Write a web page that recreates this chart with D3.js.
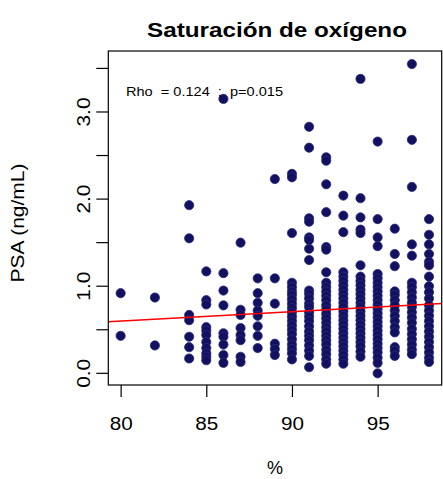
<!DOCTYPE html>
<html>
<head>
<meta charset="utf-8">
<script src="https://cdn.jsdelivr.net/npm/d3@7"></script>
<style>
  body { margin: 0; background: #fff; }
  text { font-family: "Liberation Sans", Arial, Helvetica, sans-serif; }
</style>
</head>
<body>
<div id="chart"></div>
<script>
// saturation levels (x) and PSA readings (y) at each level
const satLevels = [80, 82, 84, 85, 86, 87, 88, 89, 90, 91, 92, 93, 94, 95, 96, 97, 98];
const psa80 = [0.92, 0.43];
const psa82 = [0.87, 0.32];
const psa84 = [1.93, 1.55, 0.67, 0.61, 0.42, 0.30, 0.17];
const psa85 = [1.17, 0.84, 0.79, 0.53, 0.49, 0.44, 0.36, 0.29, 0.23, 0.19, 0.15];
const psa86 = [3.15, 1.15, 0.95, 0.78, 0.46, 0.42, 0.33, 0.21, 0.12];
const psa87 = [1.50, 0.73, 0.67, 0.52, 0.44, 0.38, 0.19, 0.13];
const psa88 = [1.09, 0.92, 0.81, 0.72, 0.66, 0.54, 0.43, 0.29];
const psa89 = [2.23, 1.09, 0.80, 0.34, 0.28, 0.21];
const psa90 = [2.29, 2.25, 1.61, 1.04, 0.99, 0.94, 0.90, 0.85, 0.80, 0.75, 0.70, 0.65, 0.60, 0.55, 0.50, 0.45, 0.39, 0.33, 0.28, 0.23, 0.16];
const psa91 = [2.83, 2.59, 1.78, 1.74, 1.56, 1.53, 1.43, 1.30, 0.95, 0.91, 0.86, 0.80, 0.76, 0.70, 0.65, 0.60, 0.54, 0.48, 0.43, 0.38, 0.32, 0.26, 0.20, 0.07];
const psa92 = [2.48, 2.44, 2.17, 1.85, 1.45, 1.42, 1.16, 1.04, 0.99, 0.94, 0.89, 0.84, 0.78, 0.73, 0.68, 0.63, 0.58, 0.53, 0.48, 0.43, 0.38, 0.33, 0.27, 0.22, 0.16, 0.11];
const psa93 = [2.04, 1.81, 1.62, 1.16, 1.11, 1.06, 1.01, 0.96, 0.91, 0.86, 0.81, 0.76, 0.71, 0.66, 0.61, 0.56, 0.51, 0.46, 0.41, 0.36, 0.31, 0.26, 0.21, 0.16, 0.11];
const psa94 = [3.38, 2.01, 1.79, 1.65, 1.61, 1.24, 1.11, 1.06, 1.01, 0.96, 0.91, 0.86, 0.81, 0.76, 0.71, 0.66, 0.61, 0.56, 0.51, 0.46, 0.41, 0.36, 0.31, 0.25, 0.19];
const psa95 = [2.66, 1.77, 1.56, 1.46, 1.14, 1.09, 1.04, 0.99, 0.94, 0.89, 0.84, 0.79, 0.74, 0.69, 0.64, 0.59, 0.54, 0.49, 0.44, 0.39, 0.34, 0.29, 0.24, 0.18, 0.12, 0.00];
const psa96 = [1.66, 1.37, 1.23, 0.94, 0.90, 0.84, 0.78, 0.72, 0.66, 0.60, 0.53, 0.47, 0.30, 0.26, 0.20];
const psa97 = [3.55, 2.68, 2.14, 1.48, 1.35, 1.04, 0.99, 0.93, 0.87, 0.81, 0.76, 0.70, 0.64, 0.58, 0.51, 0.45, 0.39, 0.33, 0.27, 0.22];
const psa98 = [1.77, 1.59, 1.48, 1.37, 1.28, 1.24, 1.11, 1.00, 0.93, 0.86, 0.78, 0.72, 0.66, 0.60, 0.54, 0.48, 0.42, 0.36, 0.30, 0.24, 0.18, 0.13];
const psaByLevel = [psa80, psa82, psa84, psa85, psa86, psa87, psa88, psa89, psa90, psa91,
    psa92, psa93, psa94, psa95, psa96, psa97, psa98];

const xTicks = [80, 85, 90, 95];
const yTicks = [0, 0.5, 1, 1.5, 2, 2.5, 3, 3.5];
const yTickLabels = ['0.0', '', '1.0', '', '2.0', '', '3.0', ''];

// fitted line: psa = intercept + slope * sat
const fitIntercept = -0.263;
const fitSlope = 0.01079;
const statsText = 'Rho  = 0.124  ;  p=0.015';

const width = 443, height = 479;
const box = { left: 108.3, right: 441.7, top: 51, bottom: 385 };

const points = [];
satLevels.forEach((s, i) => {
    psaByLevel[i].forEach(v => points.push({ sat: s, psa: v }));
});

const svg = d3.select('#chart')
    .append('svg')
    .attr('width', width)
    .attr('height', height);

const x = d3.scaleLinear()
    .domain([79.28, 98.74])
    .range([box.left, box.right]);

const y = d3.scaleLinear()
    .domain([-0.134, 3.70])
    .range([box.bottom, box.top]);

// points
svg.append('g')
    .selectAll('circle')
    .data(points)
    .enter().append('circle')
    .attr('cx', d => x(d.sat))
    .attr('cy', d => y(d.psa))
    .attr('r', 4.6)
    .attr('fill', '#12115f')
    .attr('stroke', '#2a2a82')
    .attr('stroke-width', 0.8);

// regression line across the plot region
const clipId = 'plot-clip';
svg.append('clipPath').attr('id', clipId)
    .append('rect')
    .attr('x', box.left).attr('y', box.top)
    .attr('width', box.right - box.left).attr('height', box.bottom - box.top);

const xd = x.domain();
svg.append('line')
    .attr('clip-path', `url(#${clipId})`)
    .attr('x1', x(xd[0])).attr('y1', y(fitIntercept + fitSlope * xd[0]))
    .attr('x2', x(xd[1])).attr('y2', y(fitIntercept + fitSlope * xd[1]))
    .attr('stroke', '#ff0000')
    .attr('stroke-width', 1.6);

// frame
svg.append('rect')
    .attr('x', box.left).attr('y', box.top)
    .attr('width', box.right - box.left).attr('height', box.bottom - box.top)
    .attr('fill', 'none')
    .attr('stroke', '#000')
    .attr('stroke-width', 1.2);

// axes
const xAxis = svg.append('g')
    .attr('transform', `translate(0, ${box.bottom})`)
    .call(d3.axisBottom(x).tickValues(xTicks).tickSize(12).tickPadding(20).tickFormat(d3.format('d')));
xAxis.select('.domain').remove();
xAxis.selectAll('line').attr('stroke-width', 1.2);
xAxis.selectAll('text')
    .style('font-size', '18px')
    .attr('fill', '#000')
    .attr('textLength', 23)
    .attr('lengthAdjust', 'spacingAndGlyphs');

const yAxis = svg.append('g')
    .attr('transform', `translate(${box.left}, 0)`)
    .call(d3.axisLeft(y).tickValues(yTicks).tickSize(12).tickFormat((d, i) => yTickLabels[i]));
yAxis.select('.domain').remove();
yAxis.selectAll('line').attr('stroke-width', 1.2);
yAxis.selectAll('text')
    .style('font-size', '18px')
    .attr('fill', '#000')
    .attr('x', null).attr('dy', null)
    .attr('text-anchor', 'middle')
    .attr('transform', d => `translate(-24, ${y(d)}) rotate(-90)`)
    .attr('y', 0)
    .attr('dominant-baseline', 'central');
yAxis.selectAll('.tick text').filter((d, i) => yTickLabels[i] !== '')
    .attr('textLength', 29)
    .attr('lengthAdjust', 'spacingAndGlyphs');
yAxis.selectAll('.tick').attr('transform', null);
yAxis.selectAll('.tick line').attr('y1', d => y(d)).attr('y2', d => y(d)).attr('x2', -12);

// title and axis titles
svg.append('text')
    .attr('x', 277)
    .attr('y', 37)
    .attr('text-anchor', 'middle')
    .style('font-size', '21px')
    .style('font-weight', 'bold')
    .attr('textLength', 260)
    .attr('lengthAdjust', 'spacingAndGlyphs')
    .text('Saturación de oxígeno');

svg.append('text')
    .attr('x', 275)
    .attr('y', 474)
    .attr('text-anchor', 'middle')
    .style('font-size', '18px')
    .text('%');

svg.append('text')
    .attr('transform', `translate(24, 223) rotate(-90)`)
    .attr('text-anchor', 'middle')
    .style('font-size', '18px')
    .attr('textLength', 119)
    .attr('lengthAdjust', 'spacingAndGlyphs')
    .text('PSA (ng/mL)');

svg.append('text')
    .attr('x', 126)
    .attr('y', 96)
    .style('font-size', '13px')
    .style('white-space', 'pre')
    .attr('xml:space', 'preserve')
    .attr('textLength', 157)
    .attr('lengthAdjust', 'spacingAndGlyphs')
    .text(statsText);
</script>
</body>
</html>
